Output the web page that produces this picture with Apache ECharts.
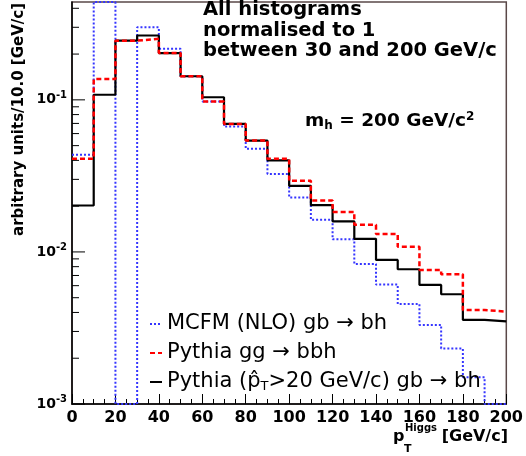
<!DOCTYPE html>
<html>
<head>
<meta charset="utf-8">
<script src="https://cdn.jsdelivr.net/npm/echarts@6/dist/echarts.min.js"></script>
<style>
  html, body { margin: 0; padding: 0; background: #fff; }
  #chart { width: 526px; height: 456px; }
</style>
</head>
<body>
<div id="chart"></div>
<script>
// bin lower edges (GeV/c), 10 GeV/c wide bins, last edge 200
var binEdges = [0, 10, 20, 30, 40, 50, 60, 70, 80, 90, 100, 110, 120, 130, 140, 150, 160, 170, 180, 190, 200];

// MCFM (NLO) gb -> bh  (bin 10-20 runs off the top, empty bins sit on the floor)
var mcfm = [0.0435, 0.44, 0.001, 0.30, 0.217, 0.143, 0.0975, 0.0667, 0.0477, 0.0326,
            0.0228, 0.0163, 0.0121, 0.00834, 0.0061, 0.00454, 0.00331, 0.00232, 0.0015, 0.001];
// Pythia gg -> bbh
var pythiaGG = [0.041, 0.137, 0.245, 0.252, 0.203, 0.143, 0.0975, 0.0695, 0.054, 0.041,
                0.0294, 0.0218, 0.0183, 0.0151, 0.0131, 0.0108, 0.00762, 0.00713, 0.00415, 0.00405];
// Pythia (pT hat > 20 GeV/c) gb -> bh
var pythiaGB = [0.0202, 0.108, 0.245, 0.265, 0.203, 0.143, 0.104, 0.0695, 0.054, 0.040,
                0.0272, 0.0203, 0.0159, 0.0122, 0.00886, 0.00769, 0.00607, 0.00527, 0.00357, 0.00349];

var yMajor = [0.001, 0.01, 0.1];
var yMinorFactors = [2, 3, 4, 5, 6, 7, 8, 9];

var legendNames = ['MCFM', 'PythiaGG', 'PythiaGB'];
var legendText = {
    MCFM: 'MCFM (NLO) gb \u2192 bh',
    PythiaGG: 'Pythia gg \u2192 bbh',
    PythiaGB: 'Pythia (p\u0302{sub|T}>20 GeV/c) gb \u2192 bh'
};

function histo(values) {
    var pts = [];
    for (var i = 0; i < values.length; i++) {
        pts.push([binEdges[i], values[i]]);
    }
    pts.push([binEdges[values.length], values[values.length - 1]]);
    return pts;
}

var yTicks = [];
yMajor.forEach(function (m) {
    yTicks.push([m, 13]);
    yMinorFactors.forEach(function (f) {
        if (m * f <= 0.44) yTicks.push([m * f, 7]);
    });
});

var FONT = 'DejaVu Sans';

var chart = echarts.init(document.getElementById('chart'));

var option = {
    animation: false,
    backgroundColor: '#fff',
    grid: {
        left: 72, right: 18, top: 2, bottom: 52,
        show: true, borderColor: '#5a4848', borderWidth: 1.5, backgroundColor: 'transparent'
    },
    legend: {
        data: legendNames,
        orient: 'vertical',
        left: 144,
        top: 307,
        itemWidth: 12,
        itemHeight: 14,
        itemGap: 5,
        itemStyle: { opacity: 0 },
        textStyle: {
            fontFamily: FONT, fontSize: 21, color: '#000', lineHeight: 24,
            rich: {
                sub: { fontFamily: FONT, fontSize: 13, color: '#000', padding: [10, 0, 0, 0] }
            }
        },
        formatter: function (name) { return legendText[name]; }
    },
    xAxis: {
        type: 'value',
        min: 0,
        max: 200,
        interval: 20,
        axisLine: { lineStyle: { color: '#000', width: 1.5 } },
        axisTick: { inside: true, length: 10, lineStyle: { color: '#000' } },
        minorTick: { show: true, splitNumber: 4, length: 5, lineStyle: { color: '#000' } },
        splitLine: { show: false },
        axisLabel: {
            margin: 6, color: '#000', fontFamily: FONT, fontWeight: 'bold', fontSize: 16,
            showMinLabel: true, showMaxLabel: true
        }
    },
    yAxis: {
        type: 'log',
        min: 0.001,
        max: 0.44,
        axisLine: { show: true, lineStyle: { color: '#000', width: 1.5 } },
        axisTick: { show: false },
        splitLine: { show: false },
        axisLabel: {
            margin: 5,
            formatter: function (v) {
                var l = Math.log10(v);
                var e = Math.round(l);
                if (Math.abs(l - e) > 1e-6) return '';
                return '{b|10}{s|' + e + '}';
            },
            rich: {
                b: { fontFamily: FONT, fontWeight: 'bold', fontSize: 14, color: '#000' },
                s: { fontFamily: FONT, fontWeight: 'bold', fontSize: 10, color: '#000', padding: [0, 0, 9, 0] }
            }
        }
    },
    graphic: [
        {
            type: 'text', left: 203, top: 0,
            style: {
                text: 'All histograms\nnormalised to 1\nbetween 30 and 200 GeV/c',
                fontFamily: FONT, fontWeight: 'bold', fontSize: 19.5, lineHeight: 20.5, fill: '#000'
            }
        },
        {
            type: 'text', left: 305, top: 111,
            style: {
                text: '{m|m}{sub|h}{m| = 200 GeV/c}{sup|2}',
                rich: {
                    m: { fontFamily: FONT, fontWeight: 'bold', fontSize: 18.5, fill: '#000' },
                    sub: { fontFamily: FONT, fontWeight: 'bold', fontSize: 12, fill: '#000', padding: [9, 0, 0, 0] },
                    sup: { fontFamily: FONT, fontWeight: 'bold', fontSize: 12, fill: '#000', padding: [0, 0, 9, 0] }
                }
            }
        },
        {
            type: 'text', x: 19, y: 3, rotation: Math.PI / 2,
            style: {
                text: 'arbitrary units/10.0 [GeV/c]',
                fontFamily: FONT, fontWeight: 'bold', fontSize: 15, fill: '#000',
                align: 'right', verticalAlign: 'middle'
            }
        },
        // x axis title: p_T^Higgs [GeV/c]
        {
            type: 'text', x: 393, y: 437,
            style: { text: 'p', fontFamily: FONT, fontWeight: 'bold', fontSize: 16, fill: '#000', verticalAlign: 'middle' }
        },
        {
            type: 'text', x: 405, y: 428,
            style: { text: 'Higgs', fontFamily: FONT, fontWeight: 'bold', fontSize: 10, fill: '#000', verticalAlign: 'middle' }
        },
        {
            type: 'text', x: 404, y: 449,
            style: { text: 'T', fontFamily: FONT, fontWeight: 'bold', fontSize: 11, fill: '#000', verticalAlign: 'middle' }
        },
        {
            type: 'text', x: 508, y: 437,
            style: { text: '[GeV/c]', fontFamily: FONT, fontWeight: 'bold', fontSize: 16, fill: '#000', align: 'right', verticalAlign: 'middle' }
        }
    ],
    series: [
        {
            name: 'MCFM',
            type: 'line',
            step: 'end',
            symbol: 'none',
            data: histo(mcfm),
            lineStyle: { color: '#3535ff', width: 2, type: [2, 2] },
            itemStyle: { color: '#3535ff' }
        },
        {
            name: 'PythiaGB',
            type: 'line',
            step: 'end',
            symbol: 'none',
            data: histo(pythiaGB),
            lineStyle: { color: '#000', width: 2.2, type: 'solid' },
            itemStyle: { color: '#000' }
        },
        {
            name: 'PythiaGG',
            type: 'line',
            step: 'end',
            symbol: 'none',
            data: histo(pythiaGG),
            lineStyle: { color: '#ff0000', width: 2.5, type: [5, 3] },
            itemStyle: { color: '#ff0000' }
        },
        {
            name: 'yticks',
            type: 'custom',
            silent: true,
            data: yTicks,
            encode: { y: 0 },
            renderItem: function (params, api) {
                var p = api.coord([0, api.value(0)]);
                return {
                    type: 'line',
                    shape: { x1: p[0], y1: p[1], x2: p[0] + api.value(1), y2: p[1] },
                    style: { stroke: '#000', lineWidth: 1 }
                };
            }
        }
    ]
};

chart.setOption(option);
</script>
</body>
</html>
